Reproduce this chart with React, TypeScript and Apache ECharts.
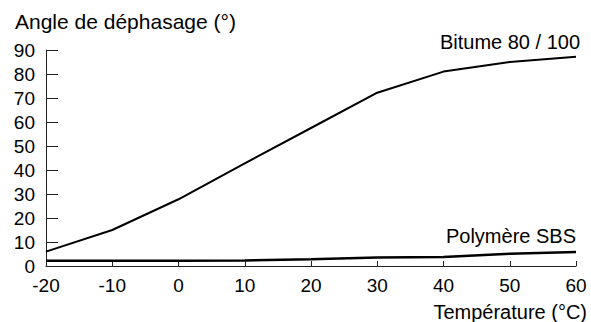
import React, { useEffect, useRef } from "react";
import * as echarts from "echarts";

const temperatures = [-20, -10, 0, 10, 20, 30, 40, 50, 60];
const bitume = [6, 15, 27.8, 42.8, 57.5, 72.2, 81, 85, 87.2];
const polymere = [2.2, 2.2, 2.2, 2.3, 2.8, 3.5, 3.8, 5.1, 5.8];
const yTicks = { min: 0, max: 90, interval: 10 };
const xTicks = { min: -20, max: 60, interval: 10 };

const FONT = "'Liberation Sans', Arial, Helvetica, sans-serif";

export default function App() {
  const ref = useRef<HTMLDivElement>(null);
  useEffect(() => {
    if (!ref.current) return;
    const chart = echarts.init(ref.current, undefined, { renderer: "svg" });
    const pair = (ys: number[]) => temperatures.map((t, i) => [t, ys[i]]);
    chart.setOption({
      animation: false,
      backgroundColor: "#fff",
      textStyle: { fontFamily: FONT, color: "#000" },
      grid: { left: 46, right: 15, top: 50, bottom: 56 },
      xAxis: {
        type: "value",
        min: xTicks.min,
        max: xTicks.max,
        interval: xTicks.interval,
        axisLine: { show: true, onZero: false, lineStyle: { color: "#222", width: 1 } },
        axisTick: { show: true, inside: true, length: 5, lineStyle: { color: "#222" } },
        splitLine: { show: false },
        axisLabel: { color: "#000", fontSize: 19, fontFamily: FONT, margin: 10 },
      },
      yAxis: {
        type: "value",
        min: yTicks.min,
        max: yTicks.max,
        interval: yTicks.interval,
        axisLine: { show: true, onZero: false, lineStyle: { color: "#222", width: 1 } },
        axisTick: { show: true, inside: true, length: 12, lineStyle: { color: "#222" } },
        splitLine: { show: false },
        axisLabel: { color: "#000", fontSize: 19, fontFamily: FONT, margin: 11, padding: [0, 0, 7, 0] },
      },
      series: [
        {
          name: "Bitume 80 / 100",
          type: "line",
          data: pair(bitume),
          symbol: "none",
          lineStyle: { color: "#000", width: 2 },
        },
        {
          name: "Polymère SBS",
          type: "line",
          data: pair(polymere),
          symbol: "none",
          lineStyle: { color: "#000", width: 2.5 },
        },
      ],
      graphic: [
        {
          type: "text",
          left: 15,
          top: 11,
          style: { text: "Angle de déphasage (°)", font: `21px ${FONT}`, fill: "#000" },
        },
        {
          type: "text",
          right: 11,
          top: 32,
          style: { text: "Bitume 80 / 100", font: `20px ${FONT}`, fill: "#000" },
        },
        {
          type: "text",
          right: 15,
          top: 226,
          style: { text: "Polymère SBS", font: `20px ${FONT}`, fill: "#000" },
        },
        {
          type: "text",
          right: 4,
          top: 302,
          style: { text: "Température (°C)", font: `20px ${FONT}`, fill: "#000" },
        },
      ],
    });
    return () => chart.dispose();
  }, []);
  return (
    <div
      ref={ref}
      style={{ position: "fixed", left: 0, top: 0, width: 591, height: 322 }}
    />
  );
}
